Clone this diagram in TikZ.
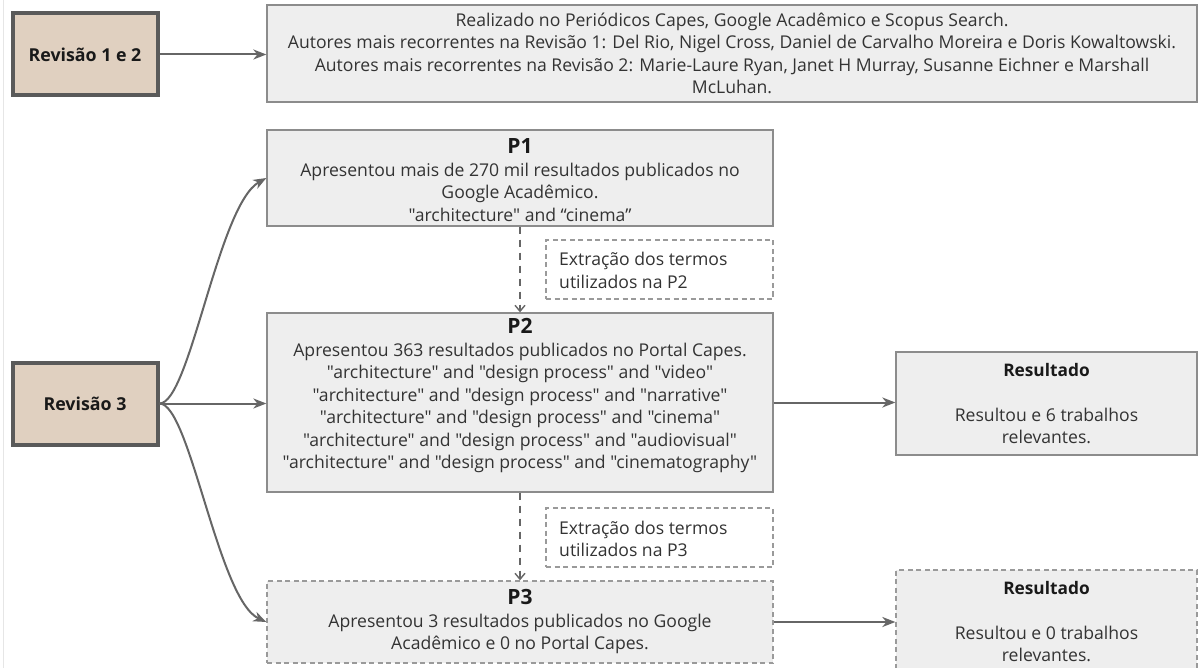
\documentclass[tikz,border=0pt]{standalone}
\usepackage{fontspec}
\setmainfont{Open Sans}[Ligatures=TeXOff]
\usetikzlibrary{arrows.meta}

\definecolor{boxfill}{HTML}{EEEEEE}
\definecolor{boxline}{HTML}{8C8C8C}
\definecolor{revfill}{HTML}{E0D0C0}
\definecolor{revline}{HTML}{5A5A5A}
\definecolor{arrowc}{HTML}{666666}
\definecolor{dashline}{HTML}{9A9A9A}
\definecolor{txt}{HTML}{333333}
\definecolor{edge}{HTML}{E6E6E6}

\newcommand{\bodyfont}{\fontsize{17.6}{22.5}\selectfont}
\newcommand{\ptitle}{\fontsize{21}{22.5}\selectfont\bfseries\color{black!90}}
\newcommand{\rtitle}{\fontsize{17.3}{22.5}\selectfont\bfseries\color{black!90}}

\begin{document}
\begin{tikzpicture}[x=1pt,y=-1pt,
  box/.style={draw=boxline, fill=boxfill, line width=1.3pt, inner sep=0pt},
  dbox/.style={box, draw=dashline, dash pattern=on 5pt off 3.5pt},
  notebox/.style={draw=dashline, fill=white, line width=1.2pt, inner sep=0pt,
    dash pattern=on 5pt off 3.5pt},
  revbox/.style={draw=revline, fill=revfill, line width=4pt, inner sep=0pt,
    font=\fontsize{17.8}{20}\selectfont\bfseries, text=black!90},
  body/.style={font=\bodyfont, text=txt, align=center, inner sep=0pt},
  note/.style={font=\bodyfont, text=txt, align=left, inner sep=0pt, anchor=west},
  arr/.style={draw=arrowc, line width=2pt,
    -{Stealth[length=13pt, width=10pt, inset=4pt]}},
  darr/.style={draw=arrowc, line width=1.8pt, dash pattern=on 7pt off 6pt,
    -{Straight Barb[length=6pt, width=10pt, line width=1.4pt]}}
]
% page
\fill[white] (0,0) rectangle (1199,668);
\clip (0,0) rectangle (1199,668);
\draw[edge, line width=1pt] (3,0) -- (3,668);

% left-hand review labels
\node[revbox, minimum width=145pt, minimum height=82pt] (rev12) at (85,54.5) {Revisão 1 e 2};
\node[revbox, minimum width=145pt, minimum height=82pt] (rev3) at (85,403.5) {Revisão 3};

% first two reviews
\node[box, minimum width=930pt, minimum height=97pt] (top) at (732,53.5) {};
\node[body] (toptext) at (top.center) {Realizado no Periódicos Capes, Google Acadêmico e Scopus Search.\\
Autores mais recorrentes na Revisão 1: Del Rio, Nigel Cross, Daniel de Carvalho Moreira e Doris Kowaltowski.\\
Autores mais recorrentes na Revisão 2: Marie-Laure Ryan, Janet H Murray, Susanne Eichner e Marshall\\
McLuhan.};

% search P1
\node[box, minimum width=506pt, minimum height=96pt] (p1) at (520,178) {};
\node[body] (p1text) at ([yshift=-2pt]p1.center) {{\ptitle P1}\\
Apresentou mais de 270 mil resultados publicados no\\
Google Acadêmico.\\
"architecture" and “cinema”};

% terms extracted for P2
\node[notebox, minimum width=227pt, minimum height=59pt] (ext2) at (659.5,269.5) {};
\node[note] (ext2text) at (559,270.5) {Extração dos termos\\utilizados na P2};

% search P2
\node[box, minimum width=506pt, minimum height=179pt] (p2) at (520,402.5) {};
\node[body, anchor=north] (p2text) at ([yshift=-6pt]p2.north) {{\ptitle P2}\\
Apresentou 363 resultados publicados no Portal Capes.\\
"architecture" and "design process" and "video"\\
"architecture" and "design process" and "narrative"\\
"architecture" and "design process" and "cinema"\\
"architecture" and "design process" and "audiovisual"\\
"architecture" and "design process" and "cinematography"};

% result of P2
\node[box, minimum width=301pt, minimum height=103pt] (res1) at (1046.5,403.5) {};
\node[body] (res1text) at (res1.center) {{\rtitle Resultado}\\[22.5pt]
Resultou e 6 trabalhos\\relevantes.};

% terms extracted for P3
\node[notebox, minimum width=227pt, minimum height=59pt] (ext3) at (659.5,537.5) {};
\node[note] (ext3text) at (559,539) {Extração dos termos\\utilizados na P3};

% search P3
\node[dbox, minimum width=506pt, minimum height=82pt] (p3) at (520,622) {};
\node[body] (p3text) at (p3.center) {{\ptitle P3}\\
Apresentou 3 resultados publicados no Google\\
Acadêmico e 0 no Portal Capes.};

% result of P3
\node[dbox, minimum width=301pt, minimum height=103pt] (res2) at (1046.5,621.5) {};
\node[body] (res2text) at (res2.center) {{\rtitle Resultado}\\[22.5pt]
Resultou e 0 trabalhos\\relevantes.};

% connectors
\draw[arr] (rev12.east) -- (rev12.east -| top.west);
\draw[arr] (rev3.east) -- (rev3.east -| p2.west);
\draw[arr] (rev3.east) .. controls (190,403.5) and (218,205) .. (p1.west);
\draw[arr] (rev3.east) .. controls (190,403.5) and (218,600) .. (p3.west);
\draw[arr] (p2.east) -- (p2.east -| res1.west);
\draw[arr] (p3.east) -- (p3.east -| res2.west);
\draw[darr] (p1.south) -- (p2.north);
\draw[darr] (p2.south) -- (p3.north);
\end{tikzpicture}
\end{document}
